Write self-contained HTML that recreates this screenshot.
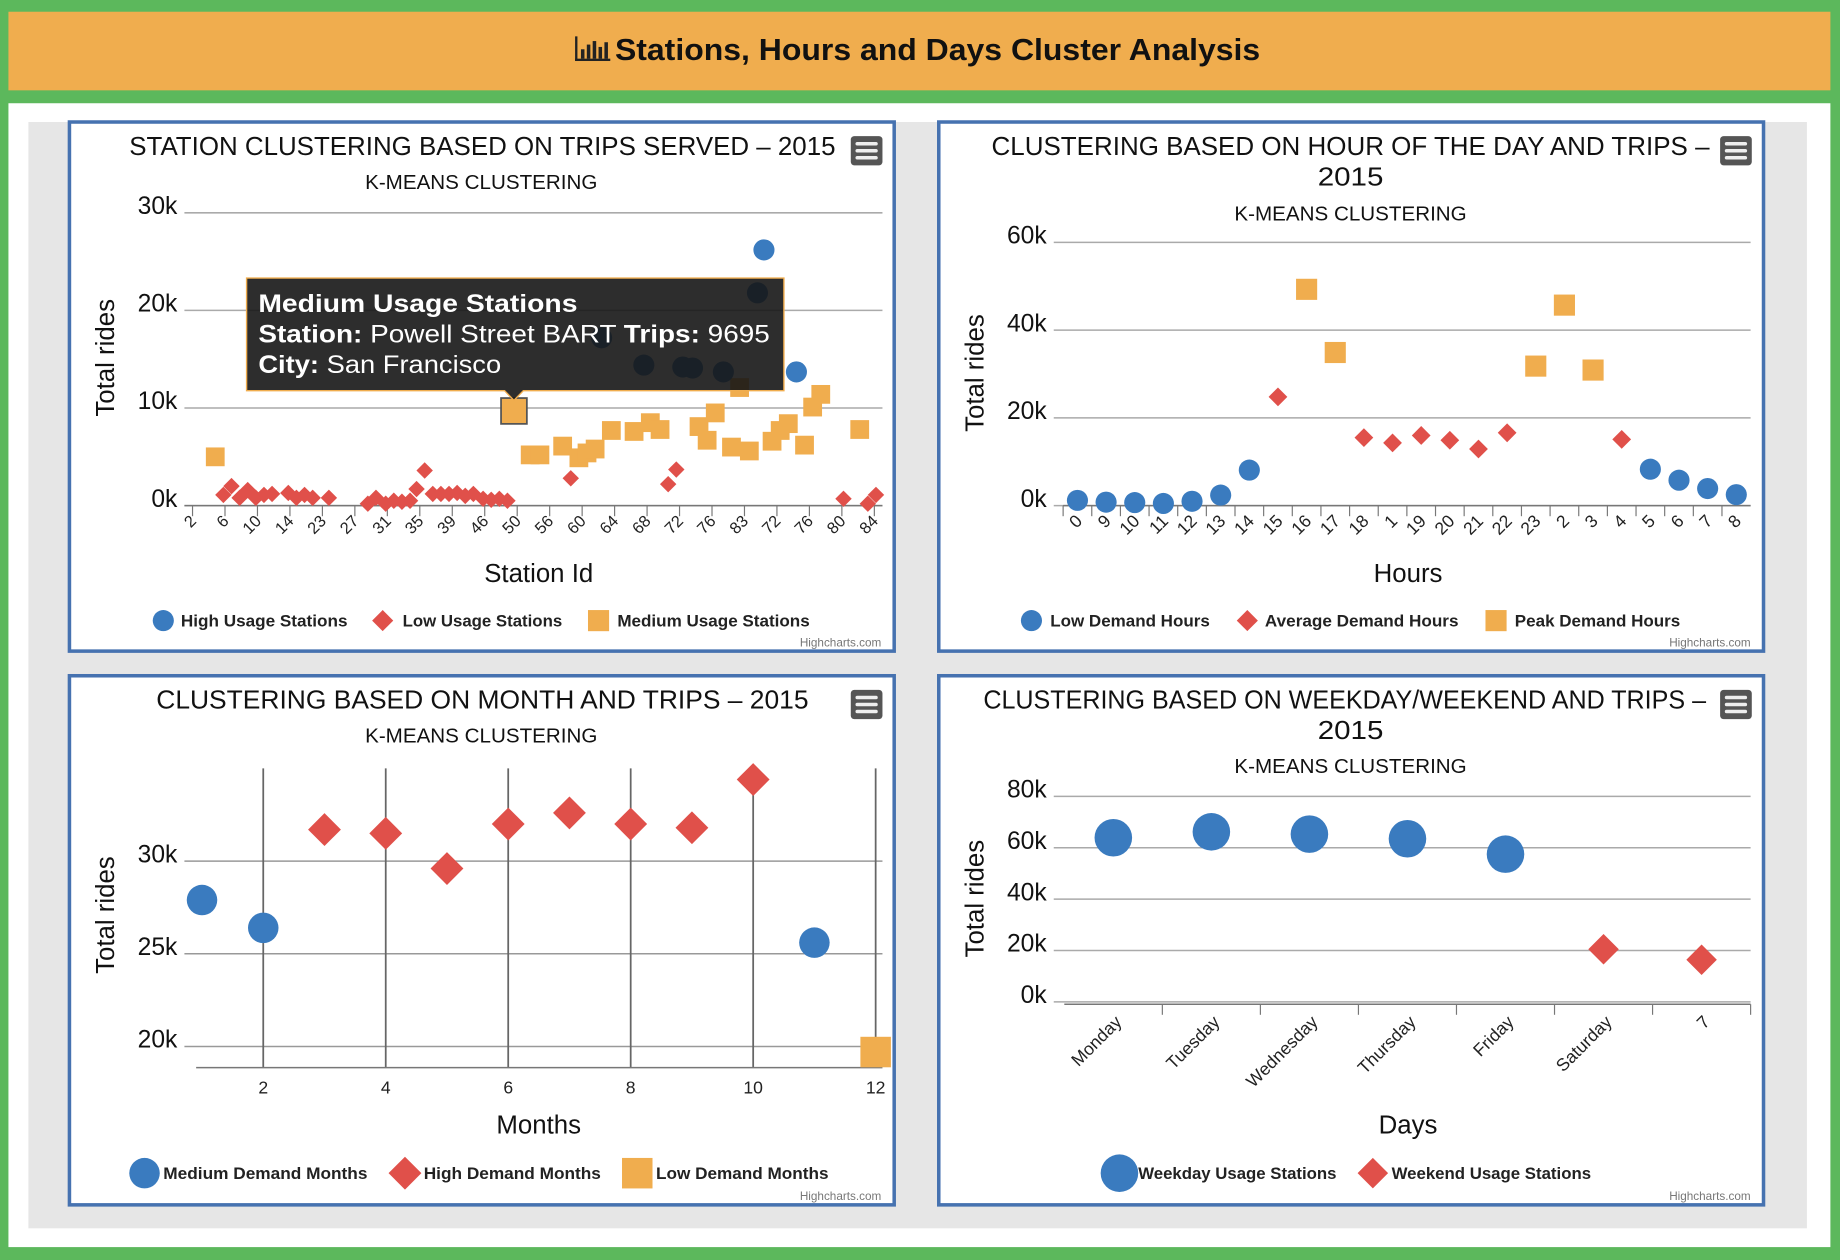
<!DOCTYPE html>
<html><head><meta charset="utf-8">
<style>
html,body{margin:0;padding:0;width:1840px;height:1260px;overflow:hidden;background:#5cb85c;}
svg{display:block;font-family:"Liberation Sans",sans-serif;}
</style></head>
<body>
<svg id="page" width="1840" height="1260" viewBox="0 0 1568 1074" xmlns="http://www.w3.org/2000/svg">
<rect x="0" y="0" width="1568" height="1074" fill="#5cb85c"/>
<g>
<rect x="7" y="10" width="1553" height="67" fill="#f0ad4e"/>
<g fill="#222">
<rect x="490" y="31" width="2" height="21"/><rect x="490" y="50" width="30" height="2"/>
<rect x="495" y="42" width="3" height="8"/><rect x="500" y="38" width="3" height="12"/><rect x="505" y="35" width="3" height="15"/><rect x="510" y="40" width="3" height="10"/><rect x="515" y="36" width="3" height="14"/>
</g>
<text x="524" y="51" font-size="26" font-weight="bold" fill="#111" textLength="550" lengthAdjust="spacingAndGlyphs">Stations, Hours and Days Cluster Analysis</text>
</g>
<rect x="7" y="88" width="1553" height="975" fill="#fff"/>
<rect x="24" y="104" width="1516" height="943" fill="#e6e6e6"/>
<g id="charts"></g>
</svg>
<script>
// ---------- Chart 1 data ----------
const c1Categories = ["2","4","6","8","10","12","14","16","23","25","27","29","31","33","35","37","39","41","46","48","50","54","56","58","60","62","64","66","68","70","72","74","76","80","83","70","72","74","76","78","80","82","84"];
const c1HighX = [35.2,34.8,25.2,27.8,30.2,30.8,32.7,37.2];
const c1HighY = [26.2,21.8,17.2,14.4,14.2,14.1,13.7,13.7];
const c1LowX = [1.9,2.4,2.9,3.4,3.9,4.4,4.9,5.9,6.4,6.9,7.4,8.4,10.8,11.3,11.9,12.4,12.9,13.4,13.8,14.3,14.8,15.3,15.8,16.3,16.8,17.3,17.9,18.4,18.9,19.4,23.3,29.3,29.8,40.1,41.6,42.1];
const c1LowY = [1.1,2.0,0.8,1.6,0.8,1.1,1.2,1.3,0.8,1.1,0.8,0.8,0.2,0.8,0.2,0.5,0.4,0.5,1.7,3.6,1.2,1.2,1.2,1.3,1.0,1.2,0.7,0.6,0.7,0.5,2.8,2.2,3.7,0.7,0.2,1.1];
const c1MedX = [1.4,19.8,20.8,21.4,22.8,23.8,24.3,24.8,25.8,27.2,28.2,28.8,31.2,31.7,32.2,33.2,33.7,34.3,35.7,36.2,36.7,37.7,38.2,38.7,41.1];
const c1MedY = [5.0,9.7,5.2,5.2,6.1,4.9,5.4,5.8,7.7,7.6,8.5,7.8,8.1,6.7,9.5,6.0,12.1,5.6,6.6,7.7,8.4,6.2,10.1,11.4,7.8];
const c1YTicks = [0,10,20,30];
// ---------- Chart 2 data ----------
const c2Categories = ["0","9","10","11","12","13","14","15","16","17","18","1","19","20","21","22","23","2","3","4","5","6","7","8"];
const c2LowIdx = [0,1,2,3,4,5,6,20,21,22,23];
const c2LowVal = [1.2,0.8,0.7,0.5,1.0,2.4,8.1,8.3,5.8,3.9,2.5];
const c2AvgIdx = [7,10,11,12,13,14,15,19];
const c2AvgVal = [24.8,15.5,14.3,16.0,14.9,12.9,16.6,15.1];
const c2PeakIdx = [8,9,16,17,18];
const c2PeakVal = [49.3,34.9,31.8,45.7,30.9];
const c2YTicks = [0,20,40,60];
// ---------- Chart 3 data ----------
const c3MedMonths = [1,2,11];
const c3MedVal = [27.9,26.4,25.6];
const c3HighMonths = [3,4,5,6,7,8,9,10];
const c3HighVal = [31.7,31.5,29.6,32.0,32.6,32.0,31.8,34.4];
const c3LowMonths = [12];
const c3LowVal = [19.7];
const c3XTicks = [2,4,6,8,10,12];
const c3YTicks = [20,25,30];
// ---------- Chart 4 data ----------
const c4Categories = ["Monday","Tuesday","Wednesday","Thursday","Friday","Saturday","7"];
const c4WeekdayIdx = [0,1,2,3,4];
const c4WeekdayVal = [63.9,66.2,65.3,63.5,57.5];
const c4WeekendIdx = [5,6];
const c4WeekendVal = [20.5,16.4];
const c4YTicks = [0,20,40,60,80];

const NS = "http://www.w3.org/2000/svg";
const root = document.getElementById('charts');
const BLUE="#3a7bbf", RED="#e0504a", ORANGE="#f0ad4e";
function el(tag, attrs, parent, txt){
  const e=document.createElementNS(NS,tag);
  for(const k in attrs) e.setAttribute(k,attrs[k]);
  if(txt!==undefined) e.textContent=txt;
  (parent||root).appendChild(e); return e;
}
function circle(g,x,y,r,c){const e=el('circle',{cx:x,cy:y,r:r,fill:c},g);return e;}
function diamond(g,x,y,r,c){return el('path',{d:`M${x} ${y-r}L${x+r} ${y}L${x} ${y+r}L${x-r} ${y}Z`,fill:c},g);}
function square(g,x,y,r,c){return el('rect',{x:x-r,y:y-r,width:2*r,height:2*r,fill:c},g);}

function panel(x,y,name,titleLines,sub,subY){
  const g=el('g',{});
  
  
  el('rect',{x:x,y:y,width:703,height:451,fill:'#fff',stroke:'#4672b0','stroke-width':3},g);
  titleLines.forEach((t,i)=>{
    const te=el('text',{x:t.cx,y:y+28+i*26,'font-size':22,'text-anchor':'middle',fill:'#111',textLength:t.w,lengthAdjust:'spacingAndGlyphs'},g,t.s);
    
    
  });
  const st=el('text',{x:x+351,y:subY,'font-size':17,'text-anchor':'middle',fill:'#111',textLength:198,lengthAdjust:'spacingAndGlyphs'},g,sub);
  
  
  const m=el('g',{},g);
  
  
  el('rect',{x:x+666,y:y+12,width:27,height:25,rx:3,fill:'#555'},m);
  for(let i=0;i<3;i++) el('rect',{x:x+670,y:y+17+i*6,width:19,height:3,rx:1.5,fill:'#eee'},m);
  const cr=el('text',{x:x+692,y:y+447,'font-size':10,'text-anchor':'end',fill:'#777'},g,'Highcharts.com');
  
  
  return g;
}
function yAxis(g,ticks,ys,x0,x1,cx,cy,grid,lx){
  ticks.forEach(t=>{
    const y=ys(t);
    if(grid) el('line',{x1:x0,x2:x1,y1:y,y2:y,stroke:'#aaa','stroke-width':1.3},g);
    const l=el('text',{x:(lx||x0)-6,y:y+1,'font-size':21,'text-anchor':'end',fill:'#111'},g,t+'k');
    
    
  });
  const tt=el('text',{x:0,y:0,'font-size':22,'text-anchor':'middle',fill:'#111',transform:`translate(${cx},${cy}) rotate(-90)`},g,'Total rides');
  
  
}
function xTitle(g,x,y,s){
  const t=el('text',{x:x,y:y,'font-size':22,'text-anchor':'middle',fill:'#111'},g,s);
  
  
}
function legend(g,items,y){
  items.forEach(it=>{
    const lg=el('g',{},g);
    
    
    it.shape(lg,it.x,y,it.r,it.c);
    el('text',{x:it.tx,y:y+5,'font-size':14,'font-weight':'bold',fill:'#222',textLength:it.w,lengthAdjust:'spacingAndGlyphs'},lg,it.s);
  });
}
function catTicks(g,cats,xs,every,yAx,x0,x1,fs){
  el('line',{x1:x0,x2:x1,y1:yAx,y2:yAx,stroke:'#777','stroke-width':1.3},g);
  cats.forEach((c,i)=>{
    if(i%every!==0) return;
    const x=xs(i);
    el('line',{x1:x,x2:x,y1:yAx,y2:yAx+9,stroke:'#777'},g);
    const l=el('text',{x:0,y:0,'font-size':fs,'text-anchor':'end',fill:'#222',transform:`translate(${x+4},${yAx+14}) rotate(-45)`},g,c);
    
    
  });
}

// ===== Chart 1 =====
(function(){
  const g=panel(59,104,'station-clustering-chart',[{s:'STATION CLUSTERING BASED ON TRIPS SERVED – 2015',cx:411,w:602}],'K-MEANS CLUSTERING',161);
  const x0=157,x1=752,n=c1Categories.length,cw=(x1-x0)/n;
  const xs=i=>x0+(i+0.5)*cw, ys=v=>431-v*8.32;
  yAxis(g,c1YTicks,ys,x0,x1,97,305,true);
  catTicks(g,c1Categories,xs,2,431,x0,x1,14);
  xTitle(g,459,496,'Station Id');
  c1LowX.forEach((x,i)=>{const m=diamond(g,xs(x),ys(c1LowY[i]),7,RED);});
  c1MedX.forEach((x,i)=>{const m=square(g,xs(x),ys(c1MedY[i]),8,ORANGE);});
  c1HighX.forEach((x,i)=>{const m=circle(g,xs(x),ys(c1HighY[i]),9,BLUE);});
  const hx=xs(c1MedX[1]), hy=ys(c1MedY[1]);
  const hv=el('rect',{x:hx-11,y:hy-11,width:22,height:22,fill:ORANGE,stroke:'#555','stroke-width':1.5},g);
  
  
  const tg=el('g',{},g);
  
  
  el('path',{d:`M210 237H668V333H${hx+8}L${hx} ${hy-9}L${hx-8} 333H210Z`,fill:'rgba(22,22,22,0.9)',stroke:'#f0ad4e','stroke-width':1.2},tg);
  el('text',{x:220,y:266,'font-size':21,'font-weight':'bold',fill:'#fff',textLength:272,lengthAdjust:'spacingAndGlyphs'},tg,'Medium Usage Stations');
  const t2=el('text',{x:220,y:292,'font-size':21,fill:'#fff',textLength:436,lengthAdjust:'spacingAndGlyphs'},tg);
  el('tspan',{'font-weight':'bold'},t2,'Station:');el('tspan',{},t2,' Powell Street BART ');el('tspan',{'font-weight':'bold'},t2,'Trips:');el('tspan',{},t2,' 9695');
  const t3=el('text',{x:220,y:318,'font-size':21,fill:'#fff',textLength:207,lengthAdjust:'spacingAndGlyphs'},tg);
  el('tspan',{'font-weight':'bold'},t3,'City:');el('tspan',{},t3,' San Francisco');
  legend(g,[{shape:circle,x:139,r:9,c:BLUE,tx:154,s:'High Usage Stations',w:142},
            {shape:diamond,x:326,r:9,c:RED,tx:343,s:'Low Usage Stations',w:136},
            {shape:square,x:510,r:9,c:ORANGE,tx:526,s:'Medium Usage Stations',w:164}],529);
})();

// ===== Chart 2 =====
(function(){
  const g=panel(800,104,'hour-clustering-chart',[{s:'CLUSTERING BASED ON HOUR OF THE DAY AND TRIPS –',cx:1151,w:612},{s:'2015',cx:1151,w:56}],'K-MEANS CLUSTERING',188);
  const x0=906,x1=1492,n=c2Categories.length,cw=(x1-x0)/n;
  const xs=i=>x0+(i+0.5)*cw, ys=v=>431-v*3.74;
  yAxis(g,c2YTicks,ys,898,x1,838,318,true);
  el('line',{x1:x0,x2:x1,y1:431,y2:431,stroke:'#777','stroke-width':1.3},g);
  c2Categories.forEach((c,i)=>{
    el('line',{x1:x0+i*cw,x2:x0+i*cw,y1:431,y2:440,stroke:'#777'},g);
    const l=el('text',{x:0,y:0,'font-size':15,'text-anchor':'end',fill:'#222',transform:`translate(${xs(i)+5},${445}) rotate(-45)`},g,c);
    
    
  });
  xTitle(g,1200,496,'Hours');
  c2LowIdx.forEach((x,i)=>{const m=circle(g,xs(x),ys(c2LowVal[i]),9,BLUE);});
  c2AvgIdx.forEach((x,i)=>{const m=diamond(g,xs(x),ys(c2AvgVal[i]),8,RED);});
  c2PeakIdx.forEach((x,i)=>{const m=square(g,xs(x),ys(c2PeakVal[i]),9,ORANGE);});
  legend(g,[{shape:circle,x:879,r:9,c:BLUE,tx:895,s:'Low Demand Hours',w:136},
            {shape:diamond,x:1063,r:9,c:RED,tx:1078,s:'Average Demand Hours',w:165},
            {shape:square,x:1275,r:9,c:ORANGE,tx:1291,s:'Peak Demand Hours',w:141}],529);
})();

// ===== Chart 3 =====
(function(){
  const g=panel(59,576,'month-clustering-chart',[{s:'CLUSTERING BASED ON MONTH AND TRIPS – 2015',cx:411,w:556}],'K-MEANS CLUSTERING',633);
  const xs=m=>172+(m-1)*52.2, ys=v=>734-(v-30)*15.8;
  c3YTicks.forEach(t=>el('line',{x1:157,x2:752,y1:ys(t),y2:ys(t),stroke:'#999','stroke-width':1.3},g));
  c3XTicks.forEach(t=>{
    el('line',{x1:xs(t),x2:xs(t),y1:655,y2:910,stroke:'#666','stroke-width':1.5},g);
    const l=el('text',{x:xs(t),y:932,'font-size':15,'text-anchor':'middle',fill:'#222'},g,String(t));
    
    
  });
  el('line',{x1:167,x2:752,y1:910,y2:910,stroke:'#777','stroke-width':1.3},g);
  yAxis(g,c3YTicks,ys,157,752,97,780,false);
  xTitle(g,459,966,'Months');
  c3MedMonths.forEach((x,i)=>{const m=circle(g,xs(x),ys(c3MedVal[i]),13,BLUE);});
  c3HighMonths.forEach((x,i)=>{const m=diamond(g,xs(x),ys(c3HighVal[i]),14,RED);});
  c3LowMonths.forEach((x,i)=>{const m=square(g,xs(x),ys(c3LowVal[i]),13,ORANGE);});
  legend(g,[{shape:circle,x:123,r:13,c:BLUE,tx:139,s:'Medium Demand Months',w:174},
            {shape:diamond,x:345,r:14,c:RED,tx:361,s:'High Demand Months',w:151},
            {shape:square,x:543,r:13,c:ORANGE,tx:559,s:'Low Demand Months',w:147}],1000);
})();

// ===== Chart 4 =====
(function(){
  const g=panel(800,576,'weekday-weekend-chart',[{s:'CLUSTERING BASED ON WEEKDAY/WEEKEND AND TRIPS –',cx:1146,w:616},{s:'2015',cx:1151,w:56}],'K-MEANS CLUSTERING',659);
  const x0=907,x1=1492,n=c4Categories.length,cw=(x1-x0)/n;
  const xs=i=>x0+(i+0.5)*cw, ys=v=>854-v*2.19;
  yAxis(g,c4YTicks,ys,898,x1,838,766,true);
  el('line',{x1:x0,x2:x1,y1:856,y2:856,stroke:'#777','stroke-width':1.3},g);
  c4Categories.forEach((c,i)=>{
    el('line',{x1:x0+(i+1)*cw,x2:x0+(i+1)*cw,y1:856,y2:865,stroke:'#777'},g);
    const l=el('text',{x:0,y:0,'font-size':15,'text-anchor':'end',fill:'#222',transform:`translate(${xs(i)+8},${872}) rotate(-45)`},g,c);
    
    
  });
  xTitle(g,1200,966,'Days');
  c4WeekdayIdx.forEach((x,i)=>{const m=circle(g,xs(x),ys(c4WeekdayVal[i]),16,BLUE);});
  c4WeekendIdx.forEach((x,i)=>{const m=diamond(g,xs(x),ys(c4WeekendVal[i]),13,RED);});
  legend(g,[{shape:circle,x:954,r:16,c:BLUE,tx:970,s:'Weekday Usage Stations',w:169},
            {shape:diamond,x:1170,r:13,c:RED,tx:1186,s:'Weekend Usage Stations',w:170}],1000);
})();
</script>
</body></html>
